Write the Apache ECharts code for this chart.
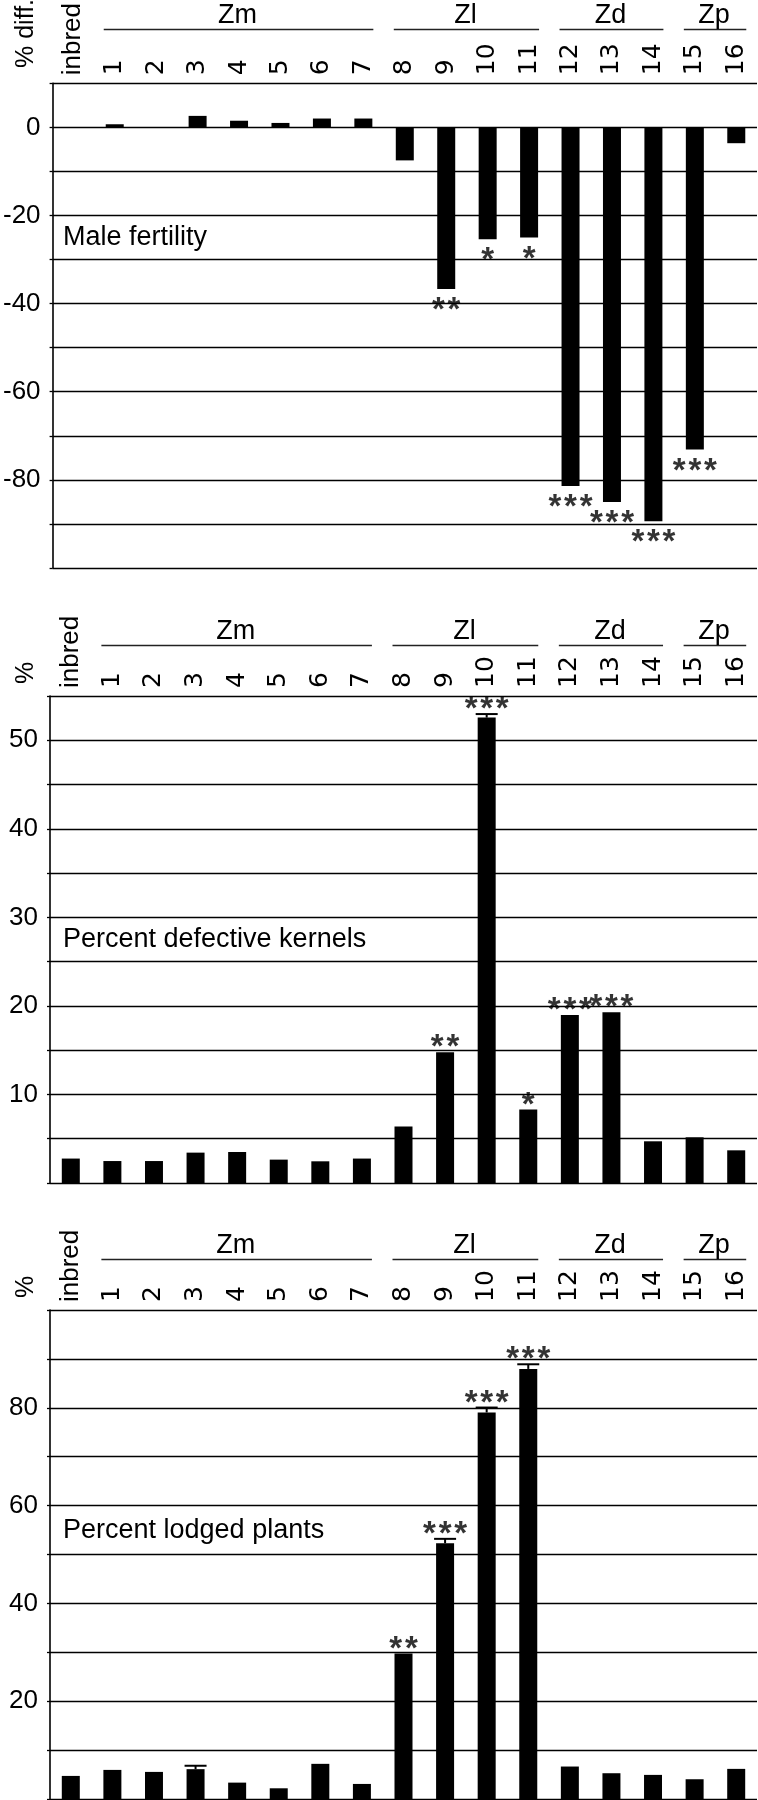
<!DOCTYPE html>
<html>
<head>
<meta charset="utf-8">
<script src="https://cdn.jsdelivr.net/npm/echarts@6/dist/echarts.min.js"></script>
<style>html,body{margin:0;padding:0;background:#fff}#c{width:758px;height:1800px}</style>
</head>
<body>
<div id="c"></div>
<script>
// ---- data ----
const categories = ['inbred','1','2','3','4','5','6','7','8','9','10','11','12','13','14','15','16'];
const groupNames = ['Zm','Zl','Zd','Zp'];
const groupFirst = [1, 8, 12, 15];
const groupLast  = [7, 11, 14, 16];

const maleFertility = [0, 0.7, 0, 2.6, 1.5, 1.0, 2.0, 2.0, -7.5, -36.7, -25.4, -25.0, -81.4, -85.0, -89.4, -73.1, -3.6];
const maleErr       = [0,0,0,0,0,0,0,0,0,0,0,0,0,0,0,0,0];
const maleSig       = ['','','','','','','','','','**','*','*','***','***','***','***',''];
const maleTicks     = [0, -20, -40, -60, -80];

const defectiveKernels = [2.76, 2.48, 2.48, 3.43, 3.5, 2.64, 2.45, 2.76, 6.37, 14.76, 52.56, 8.29, 18.97, 19.28, 4.71, 5.16, 3.69];
const defectiveErr     = [0,0,0,0,0,0,0,0,0,0,0.4,0,0,0,0,0,0];
const defectiveSig     = ['','','','','','','','','','**','***','*','***','***','','',''];
const defectiveTicks   = [10, 20, 30, 40, 50];

const lodgedPlants = [4.72, 5.95, 5.54, 6.1, 3.35, 2.19, 7.19, 3.08, 29.77, 52.3, 79.05, 87.95, 6.64, 5.27, 4.93, 4.04, 6.16];
const lodgedErr    = [0,0,0,0.7,0,0,0,0,0,0.9,1.0,0.95,0,0,0,0,0];
const lodgedSig    = ['','','','','','','','','**','***','***','***','','','','',''];
const lodgedTicks  = [20, 40, 60, 80];

const panels = [
  {title:'Male fertility', yName:'% diff.', values:maleFertility, err:maleErr, sig:maleSig, ticks:maleTicks, min:-100, max:10, interval:10, titleAt:-25},
  {title:'Percent defective kernels', yName:'%', values:defectiveKernels, err:defectiveErr, sig:defectiveSig, ticks:defectiveTicks, min:0, max:55, interval:5, titleAt:27.5},
  {title:'Percent lodged plants', yName:'%', values:lodgedPlants, err:lodgedErr, sig:lodgedSig, ticks:lodgedTicks, min:0, max:100, interval:10, titleAt:55}
];

// ---- layout ----
const gridTops = [80, 696, 1310];
const gridHeights = [488, 487, 489];
const FONT = '"Liberation Sans", Arial, Helvetica, sans-serif';
const spaced = s => s.split('').join('\u200A');

const chart = echarts.init(document.getElementById('c'), null, {renderer:'canvas'});

const grids = [], xAxes = [], yAxes = [], series = [];
panels.forEach((p, k) => {
  grids.push({left:50, right:1, top:gridTops[k], height:gridHeights[k], containLabel:false});
  xAxes.push({
    type:'category', gridIndex:k, data:categories, position:'top',
    axisLine:{show:false}, axisTick:{show:false},
    axisLabel:{
      rotate:90, margin:8, interval:0, color:'#000',
      formatter: v => v === 'inbred' ? '{a|' + v + '}' : '{b|' + v + '}',
      rich:{
        a:{fontFamily:FONT, fontSize:26, color:'#000'},
        b:{fontFamily:'"DejaVu Sans", sans-serif', fontSize:25, color:'#000'}
      }
    }
  });
  yAxes.push({
    type:'value', gridIndex:k, min:p.min, max:p.max, interval:p.interval,
    axisLine:{show:true, lineStyle:{color:'#000', width:1.6}},
    axisTick:{show:true, length:3, lineStyle:{color:'#000', width:1.3}},
    splitLine:{show:true, lineStyle:{color:'#000', width:1.3}},
    axisLabel:{
      margin:12, fontFamily:FONT, fontSize:26, color:'#000',
      formatter: v => p.ticks.indexOf(v) >= 0 ? String(v) : ''
    }
  });
  series.push({
    type:'bar', xAxisIndex:k, yAxisIndex:k, data:p.values, barWidth:18,
    itemStyle:{color:'#000'}, z:3, silent:true
  });
  series.push({
    type:'custom', xAxisIndex:k, yAxisIndex:k, z:4, silent:true,
    encode:{x:0, y:1},
    data: p.values.map((v, i) => [i, v, p.err[i]]).filter(d => d[2] > 0),
    renderItem: (params, api) => {
      const i = api.value(0), v = api.value(1), e = api.value(2);
      const dir = v >= 0 ? 1 : -1;
      const a = api.coord([i, v]);
      const b = api.coord([i, v + dir * e]);
      return {type:'group', children:[
        {type:'line', shape:{x1:a[0], y1:a[1], x2:b[0], y2:b[1]}, style:{stroke:'#000', lineWidth:2}},
        {type:'line', shape:{x1:b[0]-11, y1:b[1], x2:b[0]+11, y2:b[1]}, style:{stroke:'#000', lineWidth:2}}
      ]};
    }
  });
  series.push({
    type:'scatter', xAxisIndex:k, yAxisIndex:k, z:5, silent:true,
    symbolSize:1, itemStyle:{color:'rgba(0,0,0,0)'},
    data: p.values.map((v, i) => {
      const dir = v >= 0 ? 1 : -1;
      return {value:[i, v + dir * p.err[i]],
        label:{show:true, position:'inside', offset:[0, dir > 0 ? -4 : 22],
          formatter:spaced(p.sig[i]), fontFamily:FONT, fontWeight:'bold', fontSize:33, color:'#000'}};
    }).filter((d, i) => p.sig[i])
  });
});

chart.setOption({
  animation:false,
  backgroundColor:'#fff',
  grid:grids, xAxis:xAxes, yAxis:yAxes, series:series
});

// ---- annotations positioned through the axes ----
const graphics = [];
panels.forEach((p, k) => {
  const top = gridTops[k];
  groupNames.forEach((g, j) => {
    const x1 = chart.convertToPixel({gridIndex:k}, [groupFirst[j], p.max])[0] - 11;
    const x2 = chart.convertToPixel({gridIndex:k}, [groupLast[j], p.max])[0] + 10;
    graphics.push({type:'line', shape:{x1:x1, y1:top-50.5, x2:x2, y2:top-50.5}, style:{stroke:'#222', lineWidth:1.3}, silent:true});
    graphics.push({type:'text', x:(x1+x2)/2 - 1, y:top-64, style:{text:g, font:'27px ' + FONT, fill:'#000', textAlign:'center', textVerticalAlign:'middle'}, silent:true});
  });
  graphics.push({type:'text', x:26, y:top-12, rotation:Math.PI/2,
    style:{text:p.yName, font:'25px ' + FONT, fill:'#000', textAlign:'left', textVerticalAlign:'middle'}, silent:true});
  const ty = chart.convertToPixel({gridIndex:k}, [0, p.titleAt])[1];
  graphics.push({type:'text', x:63, y:ty, style:{text:p.title, font:'27px ' + FONT, fill:'#000', textAlign:'left', textVerticalAlign:'middle'}, silent:true});
});
chart.setOption({graphic:graphics});
</script>
</body>
</html>
